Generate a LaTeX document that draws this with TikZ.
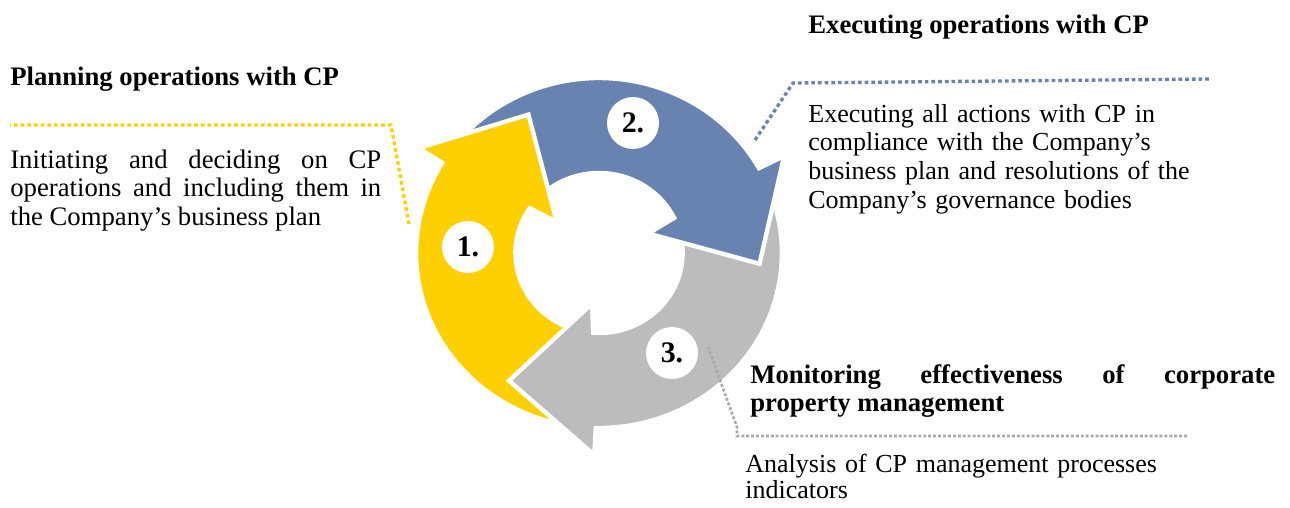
\documentclass[tikz,border=0pt]{standalone}
\usepackage{fontspec}
\setmainfont{Liberation Serif}
\usetikzlibrary{positioning}

\definecolor{cpyellow}{RGB}{255,208,0}
\definecolor{cpblue}{RGB}{104,131,176}
\definecolor{cpgray}{RGB}{188,188,188}
\definecolor{cpdots}{RGB}{170,170,170}

% one arrow of the cycle: colour, neck angle, tail angle
\newcommand{\cyclearrow}[3]{%
  \filldraw[fill=#1,draw=white,line width=2.5pt,line join=miter]
    plot[domain=#3:#2,samples=60] (\x:175)
    -- ({#2-0.3}:202) -- ({#2-33}:154) -- ({#2-6.5}:51) -- ({#2-3}:80)
    -- plot[domain={#2-3}:#3,samples=60] (\x:80) -- cycle;
}

\begin{document}
\begin{tikzpicture}[x=0.02cm,y=-0.02cm,
    title/.style={font=\fontsize{15.2}{16}\selectfont\bfseries,inner sep=0pt},
    body/.style={font=\fontsize{15.2}{16.5}\selectfont,inner sep=0pt},
    numdisc/.style={circle,fill=white,minimum size=1.04cm,inner sep=0pt,
                    font=\fontsize{17}{17}\selectfont\bfseries},
    cpdotted/.style={line width=1.9pt,dash pattern=on 2.1pt off 1.7pt}]
  \useasboundingbox (0,0) rectangle (1290,507);

  % the three arrows of the cycle
  \begin{scope}[shift={(599,253)},x=0.0209cm,y=0.02cm]
    \cyclearrow{cpyellow}{149}{257}
    \cyclearrow{cpblue}{29}{137}
    \cyclearrow{cpgray}{-91}{17}
    % blue head again, over the gray tail
    \begin{scope}
      \clip (0,-260) rectangle (260,260);
      \cyclearrow{cpblue}{29}{137}
    \end{scope}
    % yellow head again, over the blue tail
    \begin{scope}
      \clip (-260,0) rectangle (0,260);
      \cyclearrow{cpyellow}{149}{257}
    \end{scope}
  \end{scope}

  \node[numdisc] (n1) at (468,247) {1.};
  \node[numdisc] (n2) at (633,123) {2.};
  \node[numdisc] (n3) at (672,353) {3.};

  % planning
  \node[title,anchor=base west] (plantitle) at (10,85) {Planning operations with CP};
  \node[body,anchor=base west,text width=7.42cm,align=justify] (plantext) at (10,168)
    {Initiating and deciding on CP\linebreak operations and including them in\linebreak the Company’s business plan};
  \coordinate (planA) at (409,224);
  \coordinate (planB) at (391,125);
  \coordinate (planC) at (10,125);
  \draw[cpdotted,cpyellow] (planA) -- (planB) -- (planC);

  % executing
  \node[title,anchor=base west] (exectitle) at (808,33) {Executing operations with CP};
  \node[body,anchor=base west,text width=8.4cm,align=left,
        font=\fontsize{14.8}{16.5}\selectfont] (exectext) at (808,122)
    {Executing all actions with CP in\\ compliance with the Company’s\\ business plan and resolutions of the\\ Company’s governance bodies};
  \coordinate (execA) at (755,140);
  \coordinate (execB) at (793,83);
  \coordinate (execC) at (1210,79);
  \draw[cpdotted,cpblue] (execA) -- (execB) -- (execC);

  % monitoring
  \node[title,anchor=base west,text width=10.5cm,align=justify] (montitle) at (750,383)
    {Monitoring effectiveness of corporate\linebreak property management};
  \node[body,anchor=base west,text width=9cm,align=left,
        font=\fontsize{14.8}{15.2}\selectfont] (montext) at (745,472)
    {Analysis of CP management processes\\ indicators};
  \coordinate (monA) at (708,347);
  \coordinate (monB) at (737,427);
  \coordinate (monC) at (1187,436);
  \draw[line width=1.5pt,dash pattern=on 1.7pt off 1.1pt,cpdots]
    (monA) -- (monB) |- (monC);
\end{tikzpicture}
\end{document}
